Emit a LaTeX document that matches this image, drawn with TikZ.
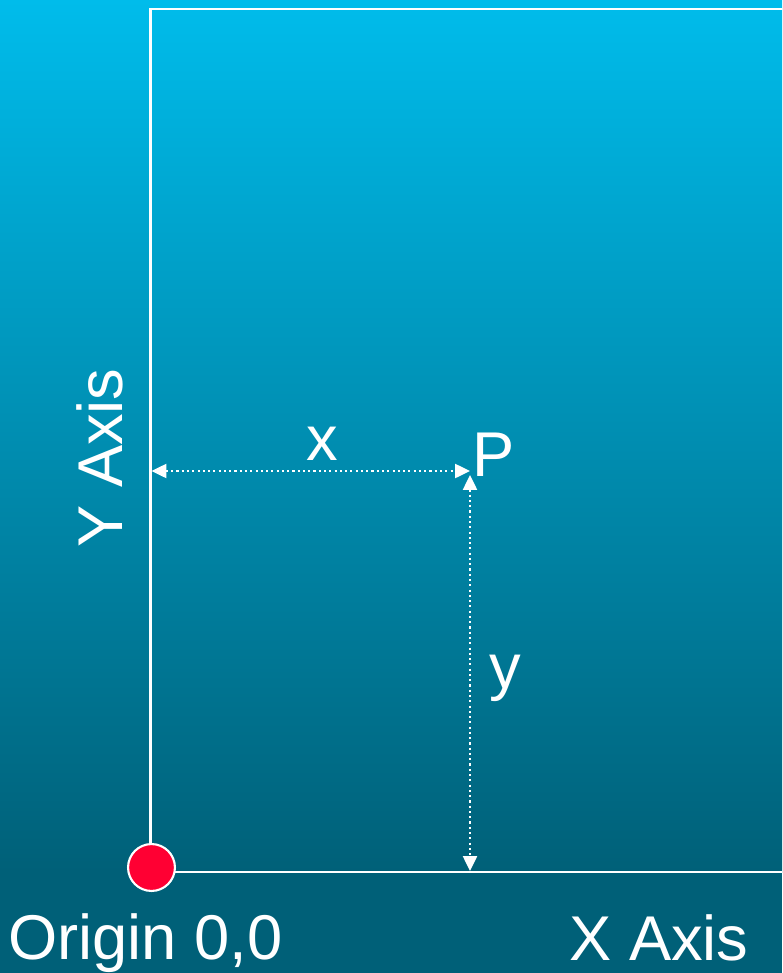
\documentclass[tikz,border=0pt]{standalone}
\usepackage{fontspec}
\setmainfont{Liberation Sans}
\usepackage{tikz}
\usetikzlibrary{arrows.meta}
\usetikzlibrary{positioning}
\definecolor{skytop}{RGB}{0,188,235}
\definecolor{seabottom}{RGB}{0,96,120}
\definecolor{originred}{RGB}{255,0,51}
\tikzset{
	axis/.style={
		draw=white,
		line width=1.2pt,
	},
	measure/.style={
		white,
		line width=1.2pt,
		dash pattern=on 1.2pt off 1.8pt,
		{Triangle[length=8.5pt,width=8pt]}-{Triangle[length=8.5pt,width=8pt]},
	},
	caption/.style={
		text=white,
		inner sep=0pt,
		font=\fontsize{36pt}{43pt}\selectfont,
	},
}
\begin{document}
\begin{tikzpicture}[x=0.02cm,y=-0.02cm]
			\useasboundingbox (0,0) rectangle (782,973);
			% Background
			\shade[top color=skytop, bottom color=seabottom] (0,0) rectangle (782,872);
			\fill[seabottom] (0,872) rectangle (782,973);
			
			% Axes
			\coordinate (ytop) at (150.5,9);
			\coordinate (rtop) at (782,9);
			\coordinate (corner) at (150.5,872);
			\coordinate (xend) at (782,872);
			\draw[axis] (rtop) -- (ytop) -- (corner) -- (xend);
			
			% Point and its distances
			\coordinate (p) at (470,471);
			\coordinate (pbelow) at (470,475);
			\coordinate (onyaxis) at (151.5,471);
			\coordinate (onxaxis) at (470,871);
			\draw[measure] (onyaxis) -- (p);
			\draw[measure] (pbelow) -- (onxaxis);
			
			% Origin
			\node[circle, fill=originred, draw=white, line width=1.2pt, minimum size=26.7pt, inner sep=0pt] (origin) at (151.5,867.5) {};
			
			% Labels
			\node[caption, anchor=base] (xlabel) at (322,460) {x};
			\node[caption, anchor=base] (ylabel) at (505,688) {y};
			\node[caption, anchor=base west] (plabel) at (472,476) {P};
			\node[caption, anchor=base, rotate=90] (yaxis) at (122,458) {Y Axis};
			\node[caption, anchor=base west] (originlabel) at (8,959) {Origin 0,0};
			\node[caption, anchor=base west] (xaxis) at (569,960) {X Axis};
		\end{tikzpicture}
\end{document}
